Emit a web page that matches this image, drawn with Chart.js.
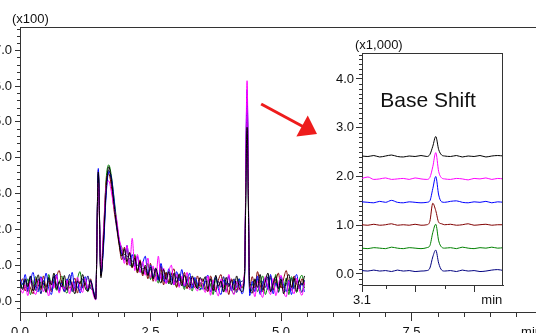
<!DOCTYPE html>
<html>
<head>
<meta charset="utf-8">
<script src="https://cdn.jsdelivr.net/npm/chart.js@4.4.1/dist/chart.umd.min.js"></script>
<style>
html, body { margin: 0; padding: 0; background: #fff; overflow: hidden; width: 536px; height: 333px; position: relative; }
#mainChart { position: absolute; left: -12px; top: 0; }
#insetChart { position: absolute; left: 325px; top: 35px; background: #fff; }
</style>
</head>
<body>
<canvas id="mainChart" width="570" height="345"></canvas>
<canvas id="insetChart" width="190" height="275"></canvas>
<script>
// ---- main chromatogram (x100), sampled every 0.05 min from 0.0 min ----
const sampleStep = 0.05;
const seriesNames = ['Run 1', 'Run 2', 'Run 3', 'Run 4', 'Run 5', 'Run 6'];
const seriesColors = ['#000000', '#ff00ff', '#0000ff', '#800000', '#008000', '#000080'];

const run1 = [0.53,0.32,0.62,0.40,0.70,0.28,0.50,0.73,0.36,0.57,0.24,0.66,0.45,0.78,0.33,0.54,0.39,0.71,0.30,0.61,0.43,0.20,0.56,0.48,0.74,0.36,0.28,0.57,
  0.30,0.05,3.60,0.65,1.70,3.10,3.75,3.40,2.70,2.15,1.60,1.25,1.45,1.10,1.35,0.95,1.20,0.85,1.10,0.75,
  1.00,0.72,0.95,0.62,0.92,0.68,0.50,0.88,0.60,0.82,0.45,0.78,0.52,0.76,0.42,0.72,0.50,0.38,0.70,0.48,0.35,0.66,
  0.55,0.68,0.34,0.62,0.28,0.72,0.42,0.56,0.25,0.66,0.40,0.58,0.30,0.70,0.38,0.26,
  0.70,4.85,0.45,
  0.22,0.62,0.38,0.74,0.30,0.55,0.78,0.26,0.50,0.68,0.34,0.62,0.20,0.55,0.74,0.38,0.64,0.27,0.58,0.44,0.70];
const run2 = [0.36,0.22,0.45,0.15,0.58,0.32,0.18,0.52,0.64,0.26,0.40,0.14,0.56,0.36,0.71,0.22,0.46,0.32,0.58,0.20,0.52,0.28,0.66,0.38,0.24,0.62,0.35,0.52,
  0.20,0.03,3.30,0.90,2.00,3.20,3.35,3.05,2.60,2.30,1.75,1.45,1.05,1.55,1.00,1.75,0.85,1.30,0.80,1.10,
  0.72,1.20,0.65,0.98,0.55,1.25,0.60,0.92,0.48,0.82,1.00,0.45,0.75,0.38,0.70,0.42,0.80,0.32,0.66,0.40,0.28,0.62,
  0.42,0.24,0.70,0.16,0.58,0.34,0.14,0.62,0.42,0.24,0.74,0.35,0.18,0.55,0.30,0.44,
  0.80,6.15,0.35,
  0.40,0.12,0.55,0.26,0.10,0.68,0.36,0.18,0.63,0.15,0.45,0.72,0.26,0.12,0.56,0.36,0.20,0.64,0.32,0.16,0.52];
const run3 = [0.62,0.45,0.74,0.32,0.56,0.80,0.38,0.26,0.68,0.45,0.78,0.36,0.18,0.58,0.74,0.32,0.50,0.26,0.62,0.44,0.80,0.34,0.55,0.22,0.46,0.68,0.30,0.58,
  0.35,0.05,3.70,0.75,1.50,2.95,3.60,3.45,2.85,2.10,1.70,1.30,1.15,1.55,1.00,1.30,0.95,1.25,0.80,1.05,
  1.25,0.75,1.00,0.68,0.90,0.58,1.05,0.66,0.50,0.90,0.62,0.45,0.82,0.56,0.88,0.42,0.54,0.78,0.36,0.66,0.48,0.35,
  0.34,0.60,0.72,0.26,0.50,0.68,0.34,0.18,0.58,0.45,0.70,0.28,0.55,0.38,0.62,0.20,
  0.60,5.90,0.15,
  0.55,0.26,0.70,0.18,0.45,0.64,0.32,0.74,0.20,0.50,0.36,0.68,0.45,0.26,0.58,0.18,0.55,0.74,0.35,0.50,0.26];
const run4 = [0.45,0.62,0.28,0.50,0.36,0.20,0.62,0.45,0.32,0.70,0.38,0.55,0.26,0.46,0.68,0.85,0.50,0.26,0.58,0.36,0.45,0.64,0.22,0.55,0.36,0.50,0.28,0.62,
  0.28,0.08,3.65,0.70,1.80,3.30,3.55,3.20,2.55,2.05,1.55,1.15,1.50,1.00,1.35,0.92,1.25,0.78,1.15,0.70,
  0.95,0.62,1.05,0.55,0.88,0.62,0.98,0.45,0.80,0.52,0.74,0.90,0.38,0.68,0.50,0.80,0.34,0.66,0.48,0.38,0.70,0.40,
  0.62,0.38,0.26,0.70,0.45,0.30,0.58,0.74,0.36,0.50,0.18,0.62,0.45,0.30,0.55,0.38,
  0.75,5.50,0.40,
  0.68,0.36,0.82,0.45,0.26,0.58,0.38,0.70,0.30,0.54,0.78,0.36,0.62,0.85,0.45,0.30,0.70,0.48,0.34,0.62,0.45];
const run5 = [0.26,0.50,0.36,0.62,0.18,0.45,0.68,0.30,0.54,0.40,0.26,0.74,0.45,0.58,0.30,0.50,0.70,0.36,0.22,0.54,0.45,0.30,0.62,0.82,0.38,0.54,0.26,0.45,
  0.25,0.05,3.50,0.80,1.90,3.40,3.80,3.50,2.90,2.25,1.65,1.50,1.15,1.45,1.05,0.95,1.30,0.80,1.10,0.78,
  0.80,1.05,0.60,0.92,0.70,0.50,0.88,0.62,0.80,0.48,0.76,0.58,0.40,0.72,0.55,0.32,0.70,0.46,0.28,0.62,0.42,0.30,
  0.50,0.30,0.58,0.45,0.18,0.64,0.38,0.54,0.26,0.45,0.68,0.34,0.20,0.50,0.62,0.36,
  0.65,5.20,0.30,
  0.45,0.58,0.26,0.50,0.70,0.18,0.45,0.64,0.30,0.74,0.26,0.50,0.36,0.64,0.18,0.68,0.45,0.24,0.58,0.72,0.36];
const run6 = [0.50,0.36,0.58,0.26,0.68,0.45,0.30,0.62,0.20,0.50,0.38,0.62,0.30,0.70,0.45,0.26,0.58,0.36,0.50,0.74,0.26,0.54,0.38,0.30,0.62,0.45,0.70,0.36,
  0.30,0.06,3.55,0.72,1.60,3.05,3.65,3.35,2.75,2.20,1.68,1.38,1.30,1.25,1.18,1.12,1.05,1.00,0.95,0.90,
  0.92,0.70,0.90,0.62,0.84,0.58,0.78,0.55,0.76,0.48,0.70,0.46,0.68,0.42,0.66,0.38,0.62,0.44,0.36,0.58,0.34,0.52,
  0.38,0.56,0.28,0.62,0.45,0.26,0.55,0.38,0.68,0.28,0.50,0.34,0.62,0.24,0.45,0.55,
  0.68,5.70,0.25,
  0.34,0.50,0.62,0.24,0.55,0.38,0.68,0.28,0.45,0.60,0.24,0.55,0.38,0.50,0.28,0.64,0.34,0.56,0.45,0.24,0.58];

const mainYTicks = [0, 1, 2, 3, 4, 5, 6, 7];
const mainXTicks = [0, 2.5, 5, 7.5];
const mainUnitPos = 9.8;   // where "min" sits under the axis

// ---- inset "Base Shift" (x1,000) ----
const insetTimes = [3.10,3.12,3.14,3.16,3.18,3.20,3.22,3.24,3.26,3.28,3.30,3.32,3.33,3.34,3.35,3.36,3.37,3.38,3.40,3.42,3.44,3.46,3.48,3.50,3.52,3.54,3.56,3.58];
const inset1 = [2.42,2.41,2.43,2.40,2.42,2.44,2.41,2.40,2.42,2.41,2.43,2.41,2.45,2.62,2.82,2.55,2.44,2.42,2.41,2.43,2.40,2.42,2.41,2.43,2.40,2.42,2.43,2.42];
const inset2 = [1.96,1.99,1.94,1.95,1.97,1.94,1.95,1.96,1.94,1.97,1.95,1.94,1.98,2.20,2.49,2.10,1.97,1.95,1.94,1.96,1.95,1.93,1.96,1.95,1.97,1.94,1.96,1.95];
const inset3 = [1.48,1.47,1.46,1.49,1.47,1.51,1.47,1.46,1.48,1.47,1.46,1.47,1.50,1.75,2.00,1.62,1.48,1.47,1.49,1.50,1.47,1.46,1.48,1.47,1.49,1.46,1.48,1.47];
const inset4 = [1.01,1.00,1.02,1.00,1.01,1.03,1.00,1.01,1.00,1.02,1.00,1.01,1.08,1.45,1.30,1.06,1.03,1.01,1.02,1.00,1.01,1.03,1.00,1.01,1.02,1.00,1.01,1.01];
const inset5 = [0.53,0.52,0.54,0.53,0.52,0.55,0.53,0.52,0.54,0.53,0.52,0.54,0.58,0.85,1.02,0.68,0.55,0.53,0.54,0.52,0.55,0.53,0.52,0.54,0.53,0.55,0.53,0.54];
const inset6 = [0.07,0.06,0.08,0.06,0.07,0.05,0.08,0.06,0.07,0.05,0.06,0.07,0.12,0.35,0.49,0.22,0.08,0.06,0.07,0.05,0.08,0.06,0.07,0.05,0.06,0.08,0.09,0.07];

const insetYTicks = [0, 1, 2, 3, 4];
const insetXMajor = [3.1, 3.28, 3.48];
const insetXMinor = [3.18, 3.38];
const insetUnitPos = 3.54;

// annotation positions, in data units of each chart
const arrowFrom = [4.62, 5.5];
const arrowTo = [5.69, 4.66];
const titlePos = [3.324, 3.55];

const axisColor = '#333';
const textColor = '#111';
const fontFamily = '"Liberation Sans", Arial, sans-serif';

Chart.defaults.font.family = fontFamily;
Chart.defaults.font.size = 13;
Chart.defaults.color = textColor;

function steps(from, to, step, skip) {
    const out = [];
    for (let v = from; v <= to + 1e-9; v += step) {
        const r = Math.round(v * 1000) / 1000;
        if (!skip.some(s => Math.abs(s - r) < 1e-6)) out.push(r);
    }
    return out;
}

function makeDatasets(xs, runs) {
    return runs.map((ys, k) => ({
        label: seriesNames[k],
        data: ys.map((y, i) => ({ x: xs[i], y: y })),
        borderColor: seriesColors[k],
        borderWidth: 1,
        pointRadius: 0,
        cubicInterpolationMode: 'monotone',
        fill: false
    }));
}

// frame, minor ticks, unit label and annotations
const deco = {
    id: 'deco',
    afterDraw(chart, args, o) {
        const { ctx, chartArea: a, scales } = chart;
        ctx.save();
        ctx.strokeStyle = axisColor;
        ctx.lineWidth = 1;
        ctx.beginPath();
        ctx.moveTo(a.left, a.top + 0.5);
        ctx.lineTo(a.right, a.top + 0.5);
        ctx.moveTo(a.right - 0.5, a.top);
        ctx.lineTo(a.right - 0.5, a.bottom);
        o.yMinor.forEach(v => {
            const y = Math.round(scales.y.getPixelForValue(v)) + 0.5;
            ctx.moveTo(a.left - o.yMinorLen, y);
            ctx.lineTo(a.left, y);
        });
        o.xMinor.forEach(v => {
            const x = Math.round(scales.x.getPixelForValue(v)) + 0.5;
            ctx.moveTo(x, a.bottom);
            ctx.lineTo(x, a.bottom + o.xMinorLen);
        });
        ctx.stroke();

        ctx.fillStyle = textColor;
        ctx.font = '13px ' + fontFamily;
        ctx.textAlign = 'left';
        ctx.textBaseline = 'alphabetic';
        ctx.fillText(o.unit, a.left + o.unitDx, a.top - 4);

        if (o.title) {
            ctx.font = '21px ' + fontFamily;
            ctx.textAlign = 'center';
            ctx.textBaseline = 'middle';
            ctx.fillText(o.title, scales.x.getPixelForValue(titlePos[0]), scales.y.getPixelForValue(titlePos[1]));
        }

        if (o.arrow) {
            const x0 = scales.x.getPixelForValue(arrowFrom[0]), y0 = scales.y.getPixelForValue(arrowFrom[1]);
            const x1 = scales.x.getPixelForValue(arrowTo[0]), y1 = scales.y.getPixelForValue(arrowTo[1]);
            const ang = Math.atan2(y1 - y0, x1 - x0);
            const headLen = 17, headHalf = 12;
            const bx = x1 - headLen * Math.cos(ang), by = y1 - headLen * Math.sin(ang);
            ctx.strokeStyle = '#ee1c1c';
            ctx.fillStyle = '#ee1c1c';
            ctx.lineWidth = 3;
            ctx.beginPath();
            ctx.moveTo(x0, y0);
            ctx.lineTo(bx + 2 * Math.cos(ang), by + 2 * Math.sin(ang));
            ctx.stroke();
            ctx.beginPath();
            ctx.moveTo(x1, y1);
            ctx.lineTo(bx + headHalf * Math.sin(ang), by - headHalf * Math.cos(ang));
            ctx.lineTo(bx - headHalf * Math.sin(ang), by + headHalf * Math.cos(ang));
            ctx.closePath();
            ctx.fill();
        }
        ctx.restore();
    }
};

const hideTick = pos => c => (c.tick && Math.abs(c.tick.value - pos) < 1e-6) ? 'rgba(0,0,0,0)' : axisColor;

// ---- main chart ----
const mainTimes = run1.map((_, i) => Math.round(i * sampleStep * 100) / 100);
new Chart(document.getElementById('mainChart'), {
    type: 'line',
    data: { datasets: makeDatasets(mainTimes, [run1, run2, run3, run4, run5, run6]) },
    plugins: [deco],
    options: {
        responsive: false,
        animation: false,
        layout: { padding: { top: 27, right: 16, left: 0, bottom: 0 } },
        plugins: {
            legend: { display: false },
            tooltip: { enabled: false },
            deco: {
                unit: '(x100)', unitDx: -8,
                yMinor: steps(-0.2, 7.6, 0.2, mainYTicks), yMinorLen: 3,
                xMinor: steps(0.5, 9.5, 0.5, mainXTicks), xMinorLen: 5,
                arrow: true
            }
        },
        scales: {
            x: {
                type: 'linear', min: 0, max: 10,
                afterBuildTicks: s => { s.ticks = mainXTicks.concat([mainUnitPos]).map(v => ({ value: v })); },
                afterFit: s => { s.height = 33; },
                ticks: {
                    autoSkip: false, maxRotation: 0, padding: 4,
                    callback: v => Math.abs(v - mainUnitPos) < 1e-6 ? 'min' : v.toFixed(1)
                },
                grid: { drawOnChartArea: false, tickLength: 9, tickColor: hideTick(mainUnitPos) },
                border: { color: axisColor }
            },
            y: {
                type: 'linear', min: -0.307, max: 7.65,
                afterBuildTicks: s => { s.ticks = mainYTicks.map(v => ({ value: v })); },
                afterFit: s => { s.width = 32; },
                ticks: { padding: 3, callback: v => v.toFixed(1) },
                grid: { drawOnChartArea: false, tickLength: 5, tickColor: axisColor },
                border: { color: axisColor }
            }
        }
    }
});

// ---- inset chart ----
new Chart(document.getElementById('insetChart'), {
    type: 'line',
    data: { datasets: makeDatasets(insetTimes, [inset1, inset2, inset3, inset4, inset5, inset6]) },
    plugins: [deco],
    options: {
        responsive: false,
        animation: false,
        layout: { padding: { top: 18, right: 12, left: 0, bottom: 0 } },
        plugins: {
            legend: { display: false },
            tooltip: { enabled: false },
            deco: {
                unit: '(x1,000)', unitDx: -7,
                yMinor: steps(-0.2, 4.5, 0.1, insetYTicks), yMinorLen: 3,
                xMinor: insetXMinor, xMinorLen: 4,
                title: 'Base Shift'
            }
        },
        scales: {
            x: {
                type: 'linear', min: 3.1, max: 3.578,
                afterBuildTicks: s => { s.ticks = insetXMajor.concat([insetUnitPos]).map(v => ({ value: v })); },
                afterFit: s => { s.height = 25; },
                ticks: {
                    autoSkip: false, maxRotation: 0, padding: 1,
                    callback: v => Math.abs(v - insetUnitPos) < 1e-6 ? 'min' : (Math.abs(v - 3.1) < 1e-6 ? '3.1' : '')
                },
                grid: { drawOnChartArea: false, tickLength: 7, tickColor: hideTick(insetUnitPos) },
                border: { color: axisColor }
            },
            y: {
                type: 'linear', min: -0.226, max: 4.533,
                afterBuildTicks: s => { s.ticks = insetYTicks.map(v => ({ value: v })); },
                afterFit: s => { s.width = 37; },
                ticks: { padding: 2, callback: v => v.toFixed(1) },
                grid: { drawOnChartArea: false, tickLength: 6, tickColor: axisColor },
                border: { color: axisColor }
            }
        }
    }
});
</script>
</body>
</html>
